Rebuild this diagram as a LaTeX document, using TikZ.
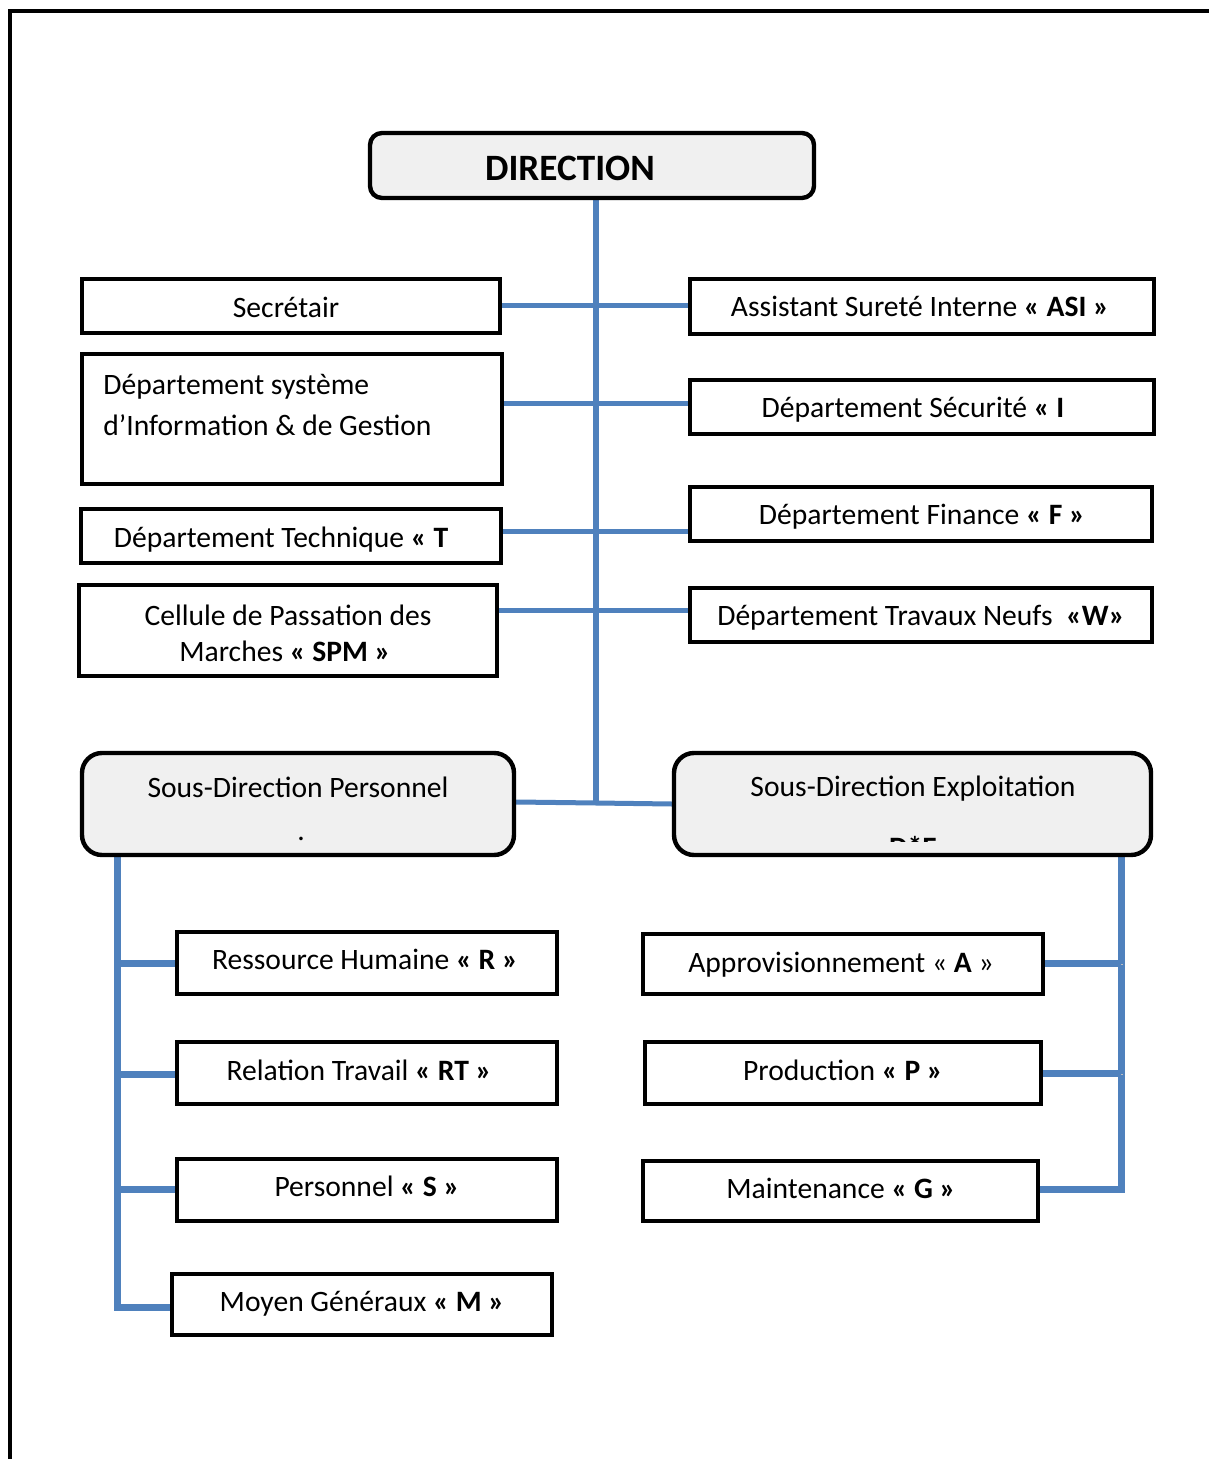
\documentclass[tikz,border=0pt]{standalone}
\usepackage{fontspec}
\setmainfont{Carlito}
\usetikzlibrary{backgrounds}
\definecolor{lblue}{HTML}{4F81BD}
\definecolor{boxgray}{HTML}{F0F0F0}
\begin{document}
\begin{tikzpicture}[x=0.5pt,y=-0.5pt,
  sbox/.style={draw=black, line width=2.2pt, fill=white, inner sep=0pt},
  rbox/.style={sbox, fill=boxgray, rounded corners=10pt},
  txt/.style={font=\fontsize{14.8}{18}\selectfont, inner sep=0pt, text height=9.5pt, text depth=0pt},
  conn/.style={draw=lblue, line width=2.5pt,
     preaction={draw=black!25, transform canvas={xshift=0.8pt,yshift=-0.8pt}}},
  trunk/.style={conn, line width=3.2pt},
  bus/.style={conn, line width=3.5pt}]
\useasboundingbox (0,0) rectangle (1208,1459);
% outer frame
\draw[line width=2pt] (10,1470) -- (10,11) -- (1220,11);

% top
\node[rbox, rounded corners=6pt, minimum width=222pt, minimum height=32.5pt] (dir) at (592,165.5) {};
\node[font=\fontsize{18.6}{22}\selectfont\bfseries, inner sep=0pt, text height=12pt, text depth=0pt] (dir-t) at (570,169) {DIRECTION};

% left column
\node[sbox, minimum width=209pt, minimum height=27pt] (secr) at (291,306) {};
\node[txt] (secr-t) at (286,308) {Secrétair};

\node[sbox, minimum width=210pt, minimum height=65pt] (dsig) at (292,419) {};
\node[txt, anchor=west] (dsig-t1) at (103,385) {Département système};
\node[txt, anchor=west] (dsig-t2) at (103,426) {d’Information \& de Gestion};

\node[sbox, minimum width=210pt, minimum height=27pt] (dtech) at (291,536) {};
\node[txt] (dtech-t) at (281,538) {Département Technique \textbf{« T}};

\node[sbox, minimum width=209pt, minimum height=45.5pt] (cpm) at (288,630.5) {};
\node[txt] (cpm-t1) at (288,616) {Cellule de Passation des};
\node[txt] (cpm-t2) at (285,652) {Marches \textbf{« SPM »}};

% right column
\node[sbox, minimum width=232pt, minimum height=27.5pt] (asi) at (922,306.5) {};
\node[txt] (asi-t) at (920,307) {Assistant Sureté Interne \textbf{« ASI »}};

\node[sbox, minimum width=232pt, minimum height=27pt] (dsec) at (922,407) {};
\node[txt] (dsec-t) at (913,408) {Département Sécurité \textbf{« I}};

\node[sbox, minimum width=231pt, minimum height=27pt] (dfin) at (921,514) {};
\node[txt] (dfin-t) at (922,515) {Département Finance \textbf{« F »}};

\node[sbox, minimum width=231pt, minimum height=27pt] (dtn) at (921,615) {};
\node[txt] (dtn-t) at (921,616) {Département Travaux Neufs\ \ \textbf{«W»}};

% sous-directions
\node[rbox, minimum width=216pt, minimum height=51pt] (sdp) at (298,804) {};
\node[txt] (sdp-t) at (298,788) {Sous-Direction Personnel};
\node[font=\fontsize{14.8}{18}\selectfont, inner sep=0pt, anchor=base] (sdp-dot) at (301,840) {.};

\node[rbox, minimum width=238.5pt, minimum height=51pt] (sde) at (912.5,804) {};
\node[txt] (sde-t) at (913,787) {Sous-Direction Exploitation};
\begin{scope}
  \clip (860,830) rectangle (970,841.5);
  \node[font=\fontsize{14.8}{18}\selectfont\bfseries, inner sep=0pt, anchor=base] (sde-c) at (913,857) {D*E};
\end{scope}

% personnel services
\node[sbox, minimum width=190pt, minimum height=31pt] (rh) at (367,963) {};
\node[txt] (rh-t) at (365,960) {Ressource Humaine \textbf{« R »}};
\node[sbox, minimum width=190pt, minimum height=31pt] (rt) at (367,1073) {};
\node[txt] (rt-t) at (359,1071) {Relation Travail \textbf{« RT »}};
\node[sbox, minimum width=190pt, minimum height=31pt] (pers) at (367,1190) {};
\node[txt] (pers-t) at (367,1187) {Personnel \textbf{« S »}};
\node[sbox, minimum width=190pt, minimum height=30.5pt] (mg) at (362,1304.5) {};
\node[txt] (mg-t) at (362,1302) {Moyen Généraux \textbf{« M »}};

% exploitation services
\node[sbox, minimum width=200pt, minimum height=30pt] (appro) at (843,964) {};
\node[txt] (appro-t) at (841,963) {Approvisionnement « \textbf{A} »};
\node[sbox, minimum width=198pt, minimum height=31pt] (prod) at (843,1073) {};
\node[txt] (prod-t) at (843,1071) {Production \textbf{« P »}};
\node[sbox, minimum width=197.5pt, minimum height=30pt] (maint) at (840.5,1191) {};
\node[txt] (maint-t) at (841,1189) {Maintenance \textbf{« G »}};

% connectors
\coordinate (mid) at (596,803);
\coordinate (lb) at (117,1307);
\coordinate (rb) at (1121,1189);
\begin{pgfonlayer}{background}
  \draw[conn] (secr.east |- 0,306) -- (asi.west |- 0,306);
  \draw[conn] (dsig.east |- 0,404) -- (dsec.west |- 0,404);
  \draw[conn] (dtech.east |- 0,531) -- (dfin.west |- 0,531);
  \draw[conn] (cpm.east |- 0,610) -- (dtn.west |- 0,610);
  \draw[trunk] (dir.south -| mid) -- (mid);
  \draw[conn] (sdp.east |- 0,802) -- (mid) -- (sde.west |- 0,804);
  \draw[bus] (sdp.south -| lb) -- (lb) -- (mg.west |- lb);
  \draw[bus] (117,963) -- (rh.west |- 0,963);
  \draw[bus] (117,1074) -- (rt.west |- 0,1074);
  \draw[bus] (117,1189) -- (pers.west |- 0,1189);
  \draw[bus] (sde.south -| rb) -- (rb) -- (maint.east |- rb);
  \draw[bus] (1121,963) -- (appro.east |- 0,963);
  \draw[bus] (1121,1073) -- (prod.east |- 0,1073);
\end{pgfonlayer}
\end{tikzpicture}
\end{document}
